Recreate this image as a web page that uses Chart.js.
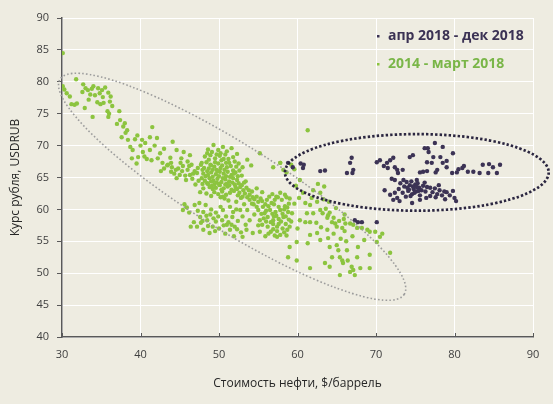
<!DOCTYPE html>
<html><head><meta charset="utf-8">
<script src="https://cdn.jsdelivr.net/npm/chart.js@4"></script>
<style>html,body{margin:0;padding:0;background:#eeece1;}</style>
</head><body>
<canvas id="c" width="553" height="404"></canvas>
<script>
const xTicks = [30, 40, 50, 60, 70, 80, 90];
const yTicks = [40, 45, 50, 55, 60, 65, 70, 75, 80, 85, 90];
const seriesNames = ['апр 2018 - дек 2018', '2014 - март 2018'];
const xTitle = 'Стоимость нефти, $/баррель';
const yTitle = 'Курс рубля, USDRUB';

const purplePoints = [
[58.8,67.3],[59.4,66.6],[60.4,67.2],[60.8,67.0],[60.7,66.5],[62.9,66.0],[63.5,66.1],[66.3,65.7],[67.1,66.2],[67.0,65.7],
[66.7,67.3],[66.9,68.1],[70.1,67.4],[70.5,67.7],[71.4,67.3],[71.5,66.5],[71.8,67.7],[72.2,68.1],[72.4,66.6],[72.7,66.2],
[72.8,65.7],[73.4,66.2],[74.3,68.2],[74.7,68.5],[75.6,65.8],[76.0,65.9],[76.5,66.0],[76.5,67.4],[76.6,69.6],[76.7,69.0],
[77.5,70.4],[77.3,68.2],[78.2,68.2],[78.5,69.8],[79.0,66.6],[79.8,68.8],[79.7,65.7],[80.3,65.8],[80.5,66.3],[81.0,66.5],
[81.2,66.8],[81.7,65.9],[82.4,65.9],[83.2,65.7],[83.6,67.0],[84.3,65.7],[84.4,67.1],[84.9,66.6],[85.4,65.7],[85.8,67.0],
[77.1,67.3],[78.5,67.3],[79.0,67.6],[77.8,66.2],[75.2,64.6],[76.2,69.6],[77.6,65.8],[71.0,66.8],[72.0,64.8],
[71.1,63.0],[71.8,62.3],[72.4,62.6],[72.7,61.8],[73.1,64.1],[72.4,64.6],[72.9,63.2],[73.4,62.6],[73.6,63.6],[73.9,64.3],
[74.1,62.9],[74.3,63.8],[74.5,64.4],[74.6,62.4],[74.8,63.2],[75.0,63.9],[75.1,62.8],[75.3,64.1],[75.5,63.4],[75.6,62.2],
[75.8,63.0],[76.0,63.7],[74.0,63.4],[74.7,63.6],[75.2,63.5],[74.4,62.1],[73.8,62.0],[76.3,62.8],[76.5,63.5],[76.9,63.4],
[77.2,62.7],[77.5,63.3],[77.8,62.4],[78.1,63.0],[78.4,62.2],[78.7,62.8],[79.0,62.7],[79.4,62.2],[79.8,62.9],[80.0,61.8],
[80.2,61.3],[74.6,61.0],[75.6,61.5],[76.4,61.8],[76.9,62.1],[73.0,61.3],[72.2,61.5],[73.5,64.6],[76.2,64.2],[77.6,61.9],
[78.8,61.6],[78.0,63.8],[74.9,62.6],[75.4,62.9],[74.2,63.1],
[67.3,58.3],[67.7,58.0],[68.2,58.0],[70.1,58.0]
];

const greenPoints = [
[30.1,84.5],[30.1,79.3],[30.3,78.8],[30.6,78.2],[31.0,77.7],[31.2,76.5],[31.6,76.4],[31.9,76.6],[31.8,80.4],[32.7,79.6],
[32.6,78.4],[33.0,79.0],[33.3,78.7],[33.8,78.9],[32.9,75.9],[33.6,78.0],[34.2,77.9],[33.9,74.5],[34.5,76.8],[34.9,76.5],
[35.1,78.7],[35.2,77.6],[35.3,76.7],[35.9,78.3],[36.1,76.9],[35.8,75.4],[36.0,75.0],[35.9,74.5],[36.2,77.7],[34.6,79.0],
[34.0,79.3],[35.5,79.1],[37.3,75.4],[36.4,76.2],[34.8,78.2],[33.4,77.2],
[37.4,74.0],[37.0,73.4],[38.0,73.5],[38.3,72.4],[37.6,71.3],[38.4,70.9],[38.7,69.8],[39.0,69.3],[39.7,68.2],[40.3,69.0],
[41.2,69.3],[41.5,72.9],[41.2,71.3],[42.1,71.2],[40.2,70.9],[40.6,70.4],[42.5,68.8],[44.1,70.6],[44.6,69.3],[46.3,68.5],
[38.9,68.0],[39.3,71.0],[39.6,71.6],[38.1,72.0],[37.8,73.0],[40.0,70.0],[40.8,67.9],[41.4,67.7],[42.2,68.0],[43.0,69.5],
[42.8,67.3],[43.5,67.0],[44.0,66.6],[44.5,66.2],[43.8,68.1],[41.8,70.0],[40.5,68.3],[39.5,67.2],[45.2,68.0],[46.0,67.5],
[45.5,69.0],
[43.0,66.4],[43.4,66.9],[43.9,65.9],[44.3,65.6],[44.8,66.4],[45.0,65.4],[45.3,66.0],[45.7,65.3],[46.3,65.4],[46.0,66.2],
[46.6,64.8],[46.9,66.0],[47.2,65.7],[47.4,64.5],[47.8,67.3],[47.8,64.9],[48.1,66.5],[48.5,64.1],[48.8,63.5],[46.5,67.0],
[45.8,64.6],[44.6,64.9],[42.6,66.0],[43.9,67.3],[47.0,63.9],
[48.2,68.3],[48.7,67.8],[49.1,69.0],[49.9,69.3],[50.5,69.8],[49.5,68.0],[50.1,68.4],[50.8,68.6],[51.2,67.9],[48.9,67.0],
[49.4,66.7],[49.9,67.2],[50.4,66.9],[50.9,67.3],[51.5,66.8],[52.0,67.5],[48.5,66.0],[49.0,65.8],[49.6,65.5],[50.1,65.9],
[50.6,65.6],[51.1,65.9],[51.6,65.4],[52.1,65.8],[48.3,65.2],[48.8,64.9],[49.3,64.5],[49.8,64.8],[50.3,64.3],[50.8,64.7],
[51.3,64.4],[51.8,64.9],[52.3,64.6],[48.6,64.0],[49.1,63.7],[49.6,63.4],[50.1,63.8],[50.6,63.3],[51.1,63.6],[51.6,63.1],
[52.1,63.5],[49.4,62.7],[49.9,62.4],[50.4,62.8],[50.9,62.3],[51.4,62.6],[51.9,62.9],[52.4,62.2],[52.7,63.5],[53.1,63.0],
[53.0,66.6],[52.6,66.1],[52.9,65.3],[52.5,67.2],[51.8,68.2],[53.4,64.4],[50.2,61.9],[50.7,61.7],[51.2,61.4],[48.0,63.3],
[47.6,62.7],[47.9,66.2],[48.4,62.5],[49.0,62.1],[51.0,69.1],[51.6,69.6],[49.3,70.1],[52.3,68.7],[53.6,67.8],[54.1,66.9],
[55.2,68.8],[56.9,66.6],[57.8,67.3],[53.6,61.9],[53.9,61.5],[52.8,61.8],[52.2,61.2],[54.3,61.9],[55.5,62.7],[54.8,63.3],
[48.6,69.4],[49.7,66.2],[50.3,67.7],[50.0,65.2],[51.0,64.0],[49.2,65.1],[50.5,62.0],[51.4,65.1],[48.9,68.5],[52.4,65.2],
[47.7,67.0],[48.0,65.6],[48.4,67.4],[48.7,66.4],[49.2,66.2],[49.5,67.4],[49.8,66.0],[50.2,66.5],[50.6,67.9],[50.7,66.2],
[51.0,66.6],[51.3,67.3],[51.8,66.1],[52.2,66.7],[48.2,64.5],[48.6,65.4],[49.0,64.4],[49.4,63.9],[49.7,64.2],[50.0,64.0],
[50.5,64.9],[50.9,65.2],[51.3,63.8],[51.7,64.2],[52.0,63.9],[52.3,63.2],[47.9,64.0],[49.2,63.2],[50.3,63.1],[50.8,63.9],
[51.9,65.6],[49.0,66.9],[50.2,68.8],[49.7,68.6],[48.5,68.8],[47.3,66.5],[46.7,65.6],[46.2,66.8],[45.4,66.8],[45.1,67.3],
[52.5,64.1],[52.9,63.8],[53.2,64.2],[53.5,63.4],[53.8,63.0],[53.3,62.5],[53.9,62.3],[54.2,62.8],[54.5,61.6],[54.8,62.0],
[54.4,60.8],[55.0,61.2],[55.3,61.7],[53.0,62.0],[52.6,62.6],
[45.4,59.9],[45.9,60.3],[45.6,60.8],[46.2,59.5],[46.9,60.7],[47.3,59.8],[47.6,58.8],[48.0,59.6],[48.5,58.3],[48.9,59.2],
[47.2,57.3],[47.7,57.9],[48.0,56.8],[48.6,57.4],[49.2,57.3],[49.6,58.1],[50.0,57.0],[50.5,59.9],[50.4,58.3],[50.9,58.9],
[51.4,60.4],[51.7,58.8],[52.0,57.3],[51.4,56.8],[51.0,57.6],[52.4,58.2],[52.7,59.9],[53.0,58.9],[53.6,59.9],[53.9,58.3],
[53.4,57.6],[54.8,60.4],[54.5,59.2],[55.2,58.3],[55.6,60.4],[55.0,57.5],[56.1,61.5],[56.5,59.9],[56.2,58.8],[56.9,58.3],
[57.4,57.3],[56.2,57.3],[55.2,56.5],[54.3,56.3],[53.5,56.8],[52.8,56.4],[57.5,61.9],[57.8,59.9],[58.2,58.8],[58.7,56.8],
[57.0,60.8],[57.3,59.0],[57.9,58.1],[58.4,60.5],[56.6,56.5],[57.8,56.0],[55.8,59.4],[54.2,60.9],[53.2,60.8],[52.2,60.0],
[51.8,59.6],[50.2,60.4],[49.6,59.5],[49.0,60.0],[48.3,60.7],[47.5,61.0],[46.8,58.0],[46.4,57.3],[50.8,56.2],[51.9,55.8],
[53.0,55.7],[55.9,55.8],
[47.9,58.2],[48.4,59.0],[49.3,58.6],[49.9,58.9],[50.6,57.5],[51.2,58.0],[51.6,57.6],[52.3,56.9],[49.5,56.6],[48.8,56.3],
[55.5,61.3],[55.9,60.8],[56.3,60.5],[56.7,61.0],[56.4,62.0],[57.1,61.5],[57.6,60.4],[57.2,59.6],[56.8,59.3],[56.0,59.8],
[55.4,59.3],[55.7,58.6],[56.0,58.1],[56.6,58.0],[57.0,58.9],[57.6,57.7],[58.1,59.3],[58.5,58.9],[57.4,56.6],[56.9,56.9],
[56.3,56.2],[57.1,55.9],[58.3,56.4],[55.5,57.6],[57.8,62.6],[58.4,62.3],[59.0,61.7],[58.7,60.3],[59.2,58.1],[55.0,59.9],
[56.8,62.4],[57.3,62.0],[58.0,61.5],[58.6,61.9],[58.9,60.9],[58.3,60.0],[58.8,59.6],[57.6,58.5],[58.5,57.7],[58.9,58.4],
[58.1,57.0],[58.6,55.9],[59.0,57.3],[59.3,59.4],[59.6,60.9],[56.9,57.7],[57.4,55.7],
[60.7,62.6],[62.0,63.0],[62.9,62.6],[61.0,61.0],[61.6,60.7],[60.3,58.3],[61.0,58.0],[61.6,58.0],[62.0,59.4],[62.9,59.9],
[63.2,59.4],[63.9,59.1],[63.8,58.7],[64.4,58.0],[64.8,57.8],[65.0,57.3],[65.7,57.1],[66.1,57.8],[66.7,57.8],[67.1,57.6],
[67.6,57.1],[68.2,57.1],[68.9,56.8],[69.2,56.5],[69.9,56.5],[70.5,55.7],[70.8,56.2],[63.6,60.1],[64.1,59.5],[64.6,58.7],
[65.3,58.2],[65.9,58.5],[62.5,61.2],[63.3,61.6],[64.0,61.2],[63.8,56.8],[63.9,55.5],[64.1,54.1],[64.4,52.5],[65.0,54.4],
[65.2,53.6],[65.4,52.5],[65.7,52.0],[65.8,51.6],[66.3,53.6],[66.4,52.0],[66.9,51.0],[67.1,50.5],[67.3,49.7],[66.7,50.2],
[68.0,50.8],[69.2,50.8],[65.4,49.7],[67.6,52.5],[67.7,54.1],[64.1,51.0],[62.9,55.2],[62.5,56.3],[61.6,56.0],[61.3,54.7],
[59.9,54.9],[59.0,54.1],[58.8,52.5],[59.9,52.0],[61.6,50.8],[63.5,51.6],[69.2,52.9],[70.1,54.9],[71.8,53.2],[60.0,57.0],
[61.2,59.4],[62.4,57.9],[63.0,57.2],[64.6,56.2],[65.5,55.4],[66.2,55.0],[67.0,55.8],[68.5,55.2],[66.0,56.6],[64.9,60.2],
[63.4,63.6],[62.6,64.0],[60.2,61.8],[59.8,63.7],[57.8,67.3],[58.2,66.2],[58.6,65.8],[59.2,67.0],[59.6,66.3],[61.3,72.4],
[60.3,64.6],[66.0,59.2],[61.8,61.8]
];

const toXY = arr => arr.map(p => ({x: p[0], y: p[1]}));

const ellipsePlugin = {
  id: 'ellipses',
  afterDatasetsDraw(chart, args, opts) {
    const {ctx, scales: {x, y}} = chart;
    ctx.save();
    const g = opts.grey;
    const x1 = x.getPixelForValue(g.tip1[0]), y1 = y.getPixelForValue(g.tip1[1]);
    const x2 = x.getPixelForValue(g.tip2[0]), y2 = y.getPixelForValue(g.tip2[1]);
    const cx = (x1 + x2) / 2, cy = (y1 + y2) / 2;
    const a = Math.hypot(x2 - x1, y2 - y1) / 2;
    const ang = Math.atan2(y2 - y1, x2 - x1);
    ctx.beginPath();
    ctx.ellipse(cx, cy, a, g.minor, ang, 0, Math.PI * 2);
    ctx.strokeStyle = g.color; ctx.lineWidth = g.width; ctx.setLineDash(g.dash); ctx.lineCap = 'butt';
    ctx.stroke();
    const d = opts.dark;
    const l = x.getPixelForValue(d.xMin), r = x.getPixelForValue(d.xMax);
    const t = y.getPixelForValue(d.yMax), b = y.getPixelForValue(d.yMin);
    ctx.beginPath();
    ctx.ellipse((l + r) / 2, (t + b) / 2, (r - l) / 2, (b - t) / 2, 0, 0, Math.PI * 2);
    ctx.strokeStyle = d.color; ctx.lineWidth = d.width; ctx.setLineDash(d.dash);
    ctx.stroke();
    ctx.restore();
  }
};

const extrasPlugin = {
  id: 'extras',
  beforeDraw(chart) {
    const {ctx, width, height} = chart;
    ctx.save(); ctx.fillStyle = '#eeece1'; ctx.fillRect(0, 0, width, height); ctx.restore();
  },
  afterDraw(chart) {
    const {ctx, chartArea, scales: {x}} = chart;
    ctx.save();
    ctx.strokeStyle = '#595959'; ctx.lineWidth = 1;
    xTicks.forEach(v => {
      const px = Math.round(x.getPixelForValue(v)) + 0.5;
      ctx.beginPath(); ctx.moveTo(px, chartArea.bottom); ctx.lineTo(px, chartArea.bottom - 4); ctx.stroke();
    });
    const items = [
      {text: seriesNames[0], color: '#3b3254', dot: '#3b3254', dy: 18},
      {text: seriesNames[1], color: '#7ab648', dot: '#8cc43f', dy: 46}
    ];
    ctx.font = 'bold 14px "Open Sans"';
    ctx.textBaseline = 'middle';
    items.forEach(it => {
      const ly = chartArea.top + it.dy;
      const lx = chartArea.right - 145;
      ctx.fillStyle = it.dot;
      ctx.fillRect(lx - 11, ly - 1, 2.5, 2.5);
      ctx.fillStyle = it.color;
      ctx.fillText(it.text, lx, ly);
    });
    ctx.restore();
  }
};

new Chart(document.getElementById('c'), {
  type: 'scatter',
  data: {
    datasets: [
      {label: seriesNames[0], data: toXY(purplePoints), backgroundColor: '#3c3355', borderWidth: 0, pointRadius: 2.2},
      {label: seriesNames[1], data: toXY(greenPoints), backgroundColor: '#8cc43f', borderWidth: 0, pointRadius: 2.2}
    ]
  },
  options: {
    responsive: false,
    animation: false,
    devicePixelRatio: 1,
    layout: {padding: {top: 18, right: 20, left: 0, bottom: 0}},
    plugins: {
      legend: {display: false},
      tooltip: {enabled: false},
      ellipses: {
        grey: {tip1: [29.75, 80.4], tip2: [73.6, 46.7], minor: 43, color: '#9c9c9c', width: 1.6, dash: [1.6, 2.2]},
        dark: {xMin: 58.4, xMax: 92.0, yMin: 59.8, yMax: 71.8, color: '#2b2640', width: 2.7, dash: [2.4, 2.1]}
      }
    },
    scales: {
      x: {
        type: 'linear', min: 30, max: 90,
        afterBuildTicks: s => { s.ticks = xTicks.map(v => ({value: v})); },
        afterFit: s => { s.height = 67; },
        grid: {color: '#ffffff', lineWidth: 1, drawTicks: false},
        border: {color: '#595959', width: 1.5},
        ticks: {font: {family: 'Open Sans', size: 11}, color: '#404040', padding: 11, maxRotation: 0},
        title: {display: true, text: xTitle, font: {family: 'Open Sans', size: 12}, color: '#262626', padding: {top: 0, bottom: 13}}
      },
      y: {
        type: 'linear', min: 40, max: 90,
        afterBuildTicks: s => { s.ticks = yTicks.map(v => ({value: v})); },
        afterFit: s => { s.width = 62; },
        grid: {color: '#ffffff', lineWidth: 1, tickColor: '#595959', tickLength: 5},
        border: {color: '#595959', width: 1.5},
        ticks: {font: {family: 'Open Sans', size: 11}, color: '#404040', padding: 8},
        title: {display: true, text: yTitle, font: {family: 'Open Sans', size: 12}, color: '#262626', padding: {top: 8, bottom: 0}}
      }
    }
  },
  plugins: [extrasPlugin, ellipsePlugin]
});
</script>
</body></html>
